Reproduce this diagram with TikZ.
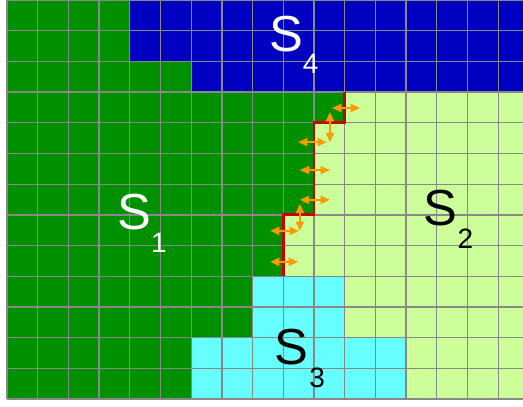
\documentclass[tikz,border=0pt]{standalone}
\usepackage{fontspec}
\setmainfont{Liberation Sans}
\usetikzlibrary{arrows.meta}
\definecolor{sgreen}{HTML}{009000}
\definecolor{sblue}{HTML}{0000C0}
\definecolor{slight}{HTML}{CCFF99}
\definecolor{scyan}{HTML}{66FFFF}
\definecolor{sgrid}{HTML}{888888}
\definecolor{sred}{HTML}{CC0000}
\definecolor{sorange}{HTML}{FF9900}
\tikzset{
  gridline/.style={draw=sgrid, line width=1pt},
  border/.style={draw=sred, line width=2.2pt, line join=miter},
  flux/.style={draw=sorange, line width=1.4pt, {Triangle[length=7pt,width=6pt]}-{Triangle[length=7pt,width=6pt]}},
  bigS/.style={inner sep=0pt, anchor=base, font=\fontsize{38}{38}\selectfont},
  subS/.style={inner sep=0pt, anchor=base, font=\fontsize{21}{21}\selectfont},
}
\begin{document}
\begin{tikzpicture}[x=23.025pt, y=-23.025pt]
\useasboundingbox (-0.228,0) rectangle (16.808,13.225);
% regions
\fill[slight] (0,0) rectangle (17,13);
\fill[sgreen] (0,0) -- (4,0) -- (4,2) -- (6,2) -- (6,3) -- (11,3) -- (11,4) -- (10,4) -- (10,7) -- (9,7) -- (9,9) -- (8,9) -- (8,11) -- (6,11) -- (6,13) -- (0,13) -- cycle;
\fill[sblue] (4,0) -- (17,0) -- (17,3) -- (6,3) -- (6,2) -- (4,2) -- cycle;
\fill[scyan] (8,9) -- (11,9) -- (11,11) -- (13,11) -- (13,13) -- (6,13) -- (6,11) -- (8,11) -- cycle;
% grid
\foreach \i in {0,...,17} \draw[gridline] (\i,0) -- (\i,13);
\foreach \j in {0,...,13} \draw[gridline] (0,\j) -- (17,\j);
% boundary
\draw[border] (11,3) -- (11,4) -- (10,4) -- (10,7) -- (9,7) -- (9,9);
% flux arrows
\draw[flux] (10.59,3.52) -- (11.50,3.52);
\draw[flux] (10.52,3.65) -- (10.52,4.63);
\draw[flux] (9.48,4.63) -- (10.42,4.63);
\draw[flux] (9.54,5.54) -- (10.52,5.54);
\draw[flux] (9.54,6.51) -- (10.52,6.51);
\draw[flux] (9.54,6.64) -- (9.54,7.52);
\draw[flux] (8.57,7.52) -- (9.51,7.52);
\draw[flux] (8.57,8.53) -- (9.48,8.53);
% labels
\node[bigS, text=white] (s4) at (9.09,1.69) {S};
\node[subS, text=white] (s4i) at (9.89,2.41) {4};
\node[bigS, text=white] (s1) at (4.14,7.46) {S};
\node[subS, text=white] (s1i) at (4.95,8.21) {1};
\node[bigS, text=black] (s2) at (14.12,7.36) {S};
\node[subS, text=black] (s2i) at (14.93,8.11) {2};
\node[bigS, text=black] (s3) at (9.25,11.86) {S};
\node[subS, text=black] (s3i) at (10.10,12.61) {3};
\end{tikzpicture}
\end{document}
